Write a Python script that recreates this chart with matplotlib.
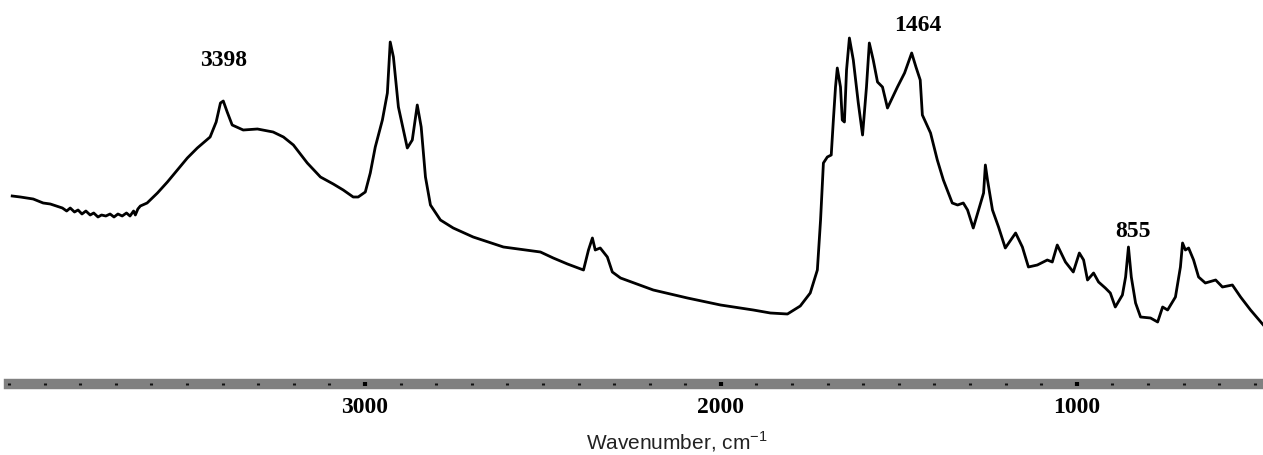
import matplotlib.pyplot as plt
from matplotlib.ticker import FixedLocator, MultipleLocator
import numpy as np

plt.rcParams['mathtext.fontset'] = 'custom'
plt.rcParams['mathtext.rm'] = 'Liberation Sans'

# FTIR spectrum, wavenumber (cm-1) vs absorbance (arb. units)
wavenumber = [
    3991, 3968, 3932, 3904, 3884, 3850, 3838, 3828, 3816, 3806, 3795, 3784,
    3772, 3762, 3750, 3740, 3728, 3716, 3705, 3694, 3682, 3670, 3660, 3650,
    3645, 3638, 3631, 3612, 3583, 3555, 3527, 3499, 3471, 3435, 3418, 3406,
    3398, 3387, 3373, 3342, 3302, 3258, 3229, 3201, 3162, 3125, 3089, 3061,
    3033, 3019, 2999, 2985, 2971, 2951, 2937, 2929, 2920, 2906, 2881, 2867,
    2853, 2842, 2830, 2816, 2788, 2752, 2696, 2611, 2507, 2471, 2431, 2386,
    2372, 2361, 2353, 2339, 2319, 2305, 2282, 2190, 2094, 2001, 1909, 1861,
    1813, 1777, 1749, 1729, 1720, 1712, 1701, 1690, 1684, 1678, 1673, 1664,
    1659, 1653, 1647, 1639, 1628, 1614, 1602, 1591, 1583, 1572, 1560, 1546,
    1532, 1504, 1484, 1464, 1452, 1440, 1434, 1411, 1392, 1375, 1350, 1335,
    1319, 1307, 1291, 1276, 1262, 1257, 1251, 1237, 1220, 1201, 1172, 1153,
    1136, 1111, 1083, 1069, 1055, 1032, 1010, 993, 981, 970, 953, 939,
    920, 906, 892, 872, 863, 855, 847, 835, 821, 793, 773, 759,
    745, 723, 709, 703, 695, 686, 672, 658, 639, 610, 591, 563,
    540, 512, 476,
]
absorbance = [
    1.88, 1.87, 1.85, 1.81, 1.80, 1.76, 1.73, 1.76, 1.72, 1.74, 1.70, 1.73,
    1.69, 1.71, 1.67, 1.69, 1.68, 1.70, 1.67, 1.70, 1.68, 1.71, 1.68, 1.73,
    1.69, 1.75, 1.78, 1.81, 1.91, 2.02, 2.14, 2.26, 2.36, 2.47, 2.62, 2.81,
    2.83, 2.72, 2.59, 2.54, 2.55, 2.52, 2.47, 2.39, 2.21, 2.07, 2.00, 1.94,
    1.87, 1.87, 1.92, 2.11, 2.37, 2.64, 2.91, 3.42, 3.27, 2.77, 2.36, 2.44,
    2.79, 2.57, 2.07, 1.79, 1.64, 1.56, 1.47, 1.37, 1.32, 1.26, 1.20, 1.14,
    1.34, 1.46, 1.34, 1.36, 1.27, 1.12, 1.06, 0.94, 0.86, 0.79, 0.74, 0.71,
    0.70, 0.78, 0.91, 1.14, 1.64, 2.21, 2.27, 2.29, 2.64, 2.97, 3.16, 2.97,
    2.64, 2.62, 3.14, 3.46, 3.24, 2.81, 2.49, 2.97, 3.41, 3.24, 3.02, 2.97,
    2.76, 2.97, 3.11, 3.31, 3.17, 3.04, 2.69, 2.51, 2.24, 2.04, 1.81, 1.79,
    1.81, 1.74, 1.56, 1.74, 1.91, 2.19, 2.04, 1.74, 1.57, 1.36, 1.51, 1.37,
    1.17, 1.19, 1.24, 1.22, 1.39, 1.22, 1.12, 1.31, 1.24, 1.04, 1.11, 1.02,
    0.96, 0.91, 0.77, 0.89, 1.07, 1.37, 1.07, 0.81, 0.67, 0.66, 0.62, 0.77,
    0.74, 0.87, 1.17, 1.41, 1.34, 1.36, 1.24, 1.07, 1.01, 1.04, 0.97, 0.99,
    0.87, 0.74, 0.59,
]

tick_positions = [3000, 2000, 1000]
peaks = [3398, 1464, 855]
peak_offsets = [(0, 29.5), (4.5, 20), (3, 11)]

fig = plt.figure(figsize=(12.63, 4.55), dpi=100)
ax = fig.add_axes([9 / 1263, 71 / 455, 1 - 9 / 1263, 384 / 455])

ax.plot(wavenumber, absorbance, color='black', linewidth=2.0)

w_sorted = np.array(wavenumber[::-1])
a_sorted = np.array(absorbance[::-1])
for p, off in zip(peaks, peak_offsets):
    a_peak = np.interp(p, w_sorted, a_sorted)
    ax.annotate(str(p), xy=(p, a_peak), xytext=off, textcoords='offset points',
                ha='center', va='center', fontsize=17, fontweight='bold',
                family='Liberation Serif')

ax.set_xlim(4000, 477)
ax.set_ylim(0, 3.84)

for side in ['top', 'left', 'right']:
    ax.spines[side].set_visible(False)
ax.spines['bottom'].set_linewidth(7.5)
ax.spines['bottom'].set_color('#808080')
ax.spines['bottom'].set_zorder(2)
ax.set_yticks([])

# dots inside the grey axis bar
ax.xaxis.set_zorder(3)
ax.xaxis.set_major_locator(FixedLocator(tick_positions))
ax.xaxis.set_minor_locator(MultipleLocator(100))
ax.tick_params(axis='x', which='major', direction='inout', length=2.2, width=3.0,
               color='black', pad=8, labelsize=17)
ax.tick_params(axis='x', which='minor', direction='inout', length=1.8, width=2.2,
               color='#111111')
for lbl in ax.get_xticklabels():
    lbl.set_family('Liberation Serif')
    lbl.set_fontweight('bold')

fig.text(677 / 1263, 1 - 442 / 455, r'Wavenumber, cm$^{-1}$', ha='center',
         va='center', fontsize=15, family='Liberation Sans', color='#222222')

fig.savefig('out.png', dpi=100)
